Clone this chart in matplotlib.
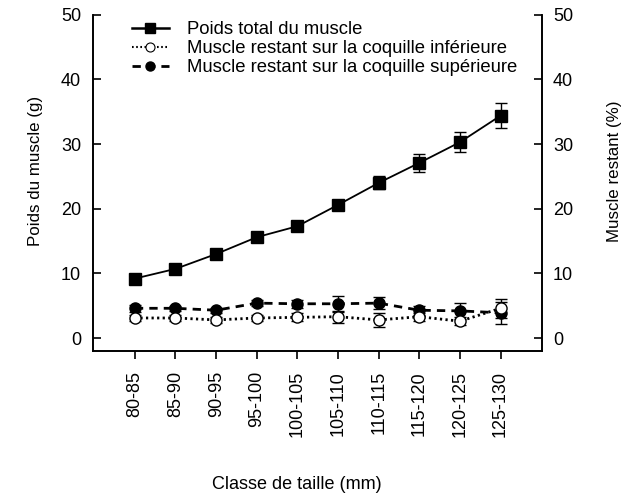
import numpy as np
import matplotlib
matplotlib.use("Agg")
import matplotlib.pyplot as plt
from matplotlib.lines import Line2D

plt.rcParams['font.family'] = ['Liberation Sans', 'DejaVu Sans']

classes = ["80-85", "85-90", "90-95", "95-100", "100-105",
           "105-110", "110-115", "115-120", "120-125", "125-130"]

poids_total = [9.2, 10.7, 13.0, 15.6, 17.3, 20.6, 24.0, 27.1, 30.3, 34.4]
poids_total_err = [0.4, 0.4, 0.4, 0.4, 0.5, 0.7, 1.0, 1.4, 1.5, 1.9]

coq_inf = [3.1, 3.1, 2.8, 3.1, 3.2, 3.3, 2.8, 3.3, 2.6, 4.6]
coq_inf_err = [0.5, 0.4, 0.4, 0.4, 0.6, 0.9, 1.1, 0.6, 0.6, 1.5]

coq_sup = [4.6, 4.6, 4.3, 5.4, 5.3, 5.3, 5.4, 4.3, 4.2, 3.9]
coq_sup_err = [0.5, 0.4, 0.4, 0.5, 0.6, 1.2, 0.9, 0.7, 1.2, 1.7]

x = np.arange(len(classes))
fs = 13
fs_lab = 12.2

fig = plt.figure(figsize=(6.23, 4.95), dpi=100)
ax = fig.add_axes([0.1493, 0.291, 0.7207, 0.679])

eb = dict(ecolor='black', elinewidth=1.0, capsize=4.5, capthick=1.0)
sup_ls = (0, (3, 2.2))
inf_ls = (0, (0.8, 1.2))

ax.errorbar(x, poids_total, yerr=poids_total_err, color='black', lw=1.3,
            marker='s', ms=9, mfc='black', mec='black', zorder=3, **eb)
ax.errorbar(x, coq_sup, yerr=coq_sup_err, color='black', lw=2.0,
            linestyle=sup_ls, marker='o', ms=8, mfc='black', mec='black',
            zorder=3, **eb)
ax.errorbar(x, coq_inf, yerr=coq_inf_err, color='black', lw=2.0,
            linestyle=inf_ls, marker='o', ms=8, mfc='white', mec='black',
            mew=1.0, zorder=4, **eb)

ax.set_xlim(-1.03, 10.02)
ax.set_ylim(-2, 50)
ax.set_yticks([0, 10, 20, 30, 40, 50])
ax.set_xticks(x)
ax.set_xticklabels(classes, rotation=90)
ax.tick_params(axis='y', direction='in', length=5.5, width=1.2,
               labelsize=fs, pad=8.5)
ax.tick_params(axis='x', direction='out', length=5.5, width=1.2,
               labelsize=fs, pad=9)

ax.spines['top'].set_visible(False)
for s in ('left', 'right', 'bottom'):
    ax.spines[s].set_linewidth(1.2)

ax.set_ylabel('Poids du muscle (g)', fontsize=fs_lab, labelpad=13)
ax.yaxis.label.set_y(0.535)

ax2 = ax.twinx()
ax2.set_ylim(-2, 50)
ax2.set_yticks([0, 10, 20, 30, 40, 50])
ax2.tick_params(direction='in', length=5.5, width=1.2, labelsize=fs, pad=8)
ax2.spines['top'].set_visible(False)
for s in ('left', 'right', 'bottom'):
    ax2.spines[s].set_linewidth(1.2)
ax2.set_ylabel('Muscle restant (%)', fontsize=fs_lab, labelpad=24)
ax2.yaxis.label.set_y(0.535)

fig.text(0.477, 0.004, 'Classe de taille (mm)', fontsize=fs,
         ha='center', va='bottom')

handles = [
    Line2D([], [], color='black', lw=1.8, marker='s', ms=7),
    Line2D([], [], color='black', lw=1.5, linestyle=inf_ls, marker='o', ms=6.5,
           mfc='white', mec='black', mew=0.8),
    Line2D([], [], color='black', lw=2.0, linestyle=sup_ls, marker='o', ms=6.5),
]
labels = ['Poids total du muscle',
          'Muscle restant sur la coquille inférieure',
          'Muscle restant sur la coquille supérieure']
ax.legend(handles, labels, loc='upper left',
          bbox_to_anchor=(0.066, 1.008), frameon=False, fontsize=13.3,
          handlelength=2.0, handletextpad=1.0, labelspacing=0.1,
          borderaxespad=0.1)

fig.savefig('out.png', dpi=100)
